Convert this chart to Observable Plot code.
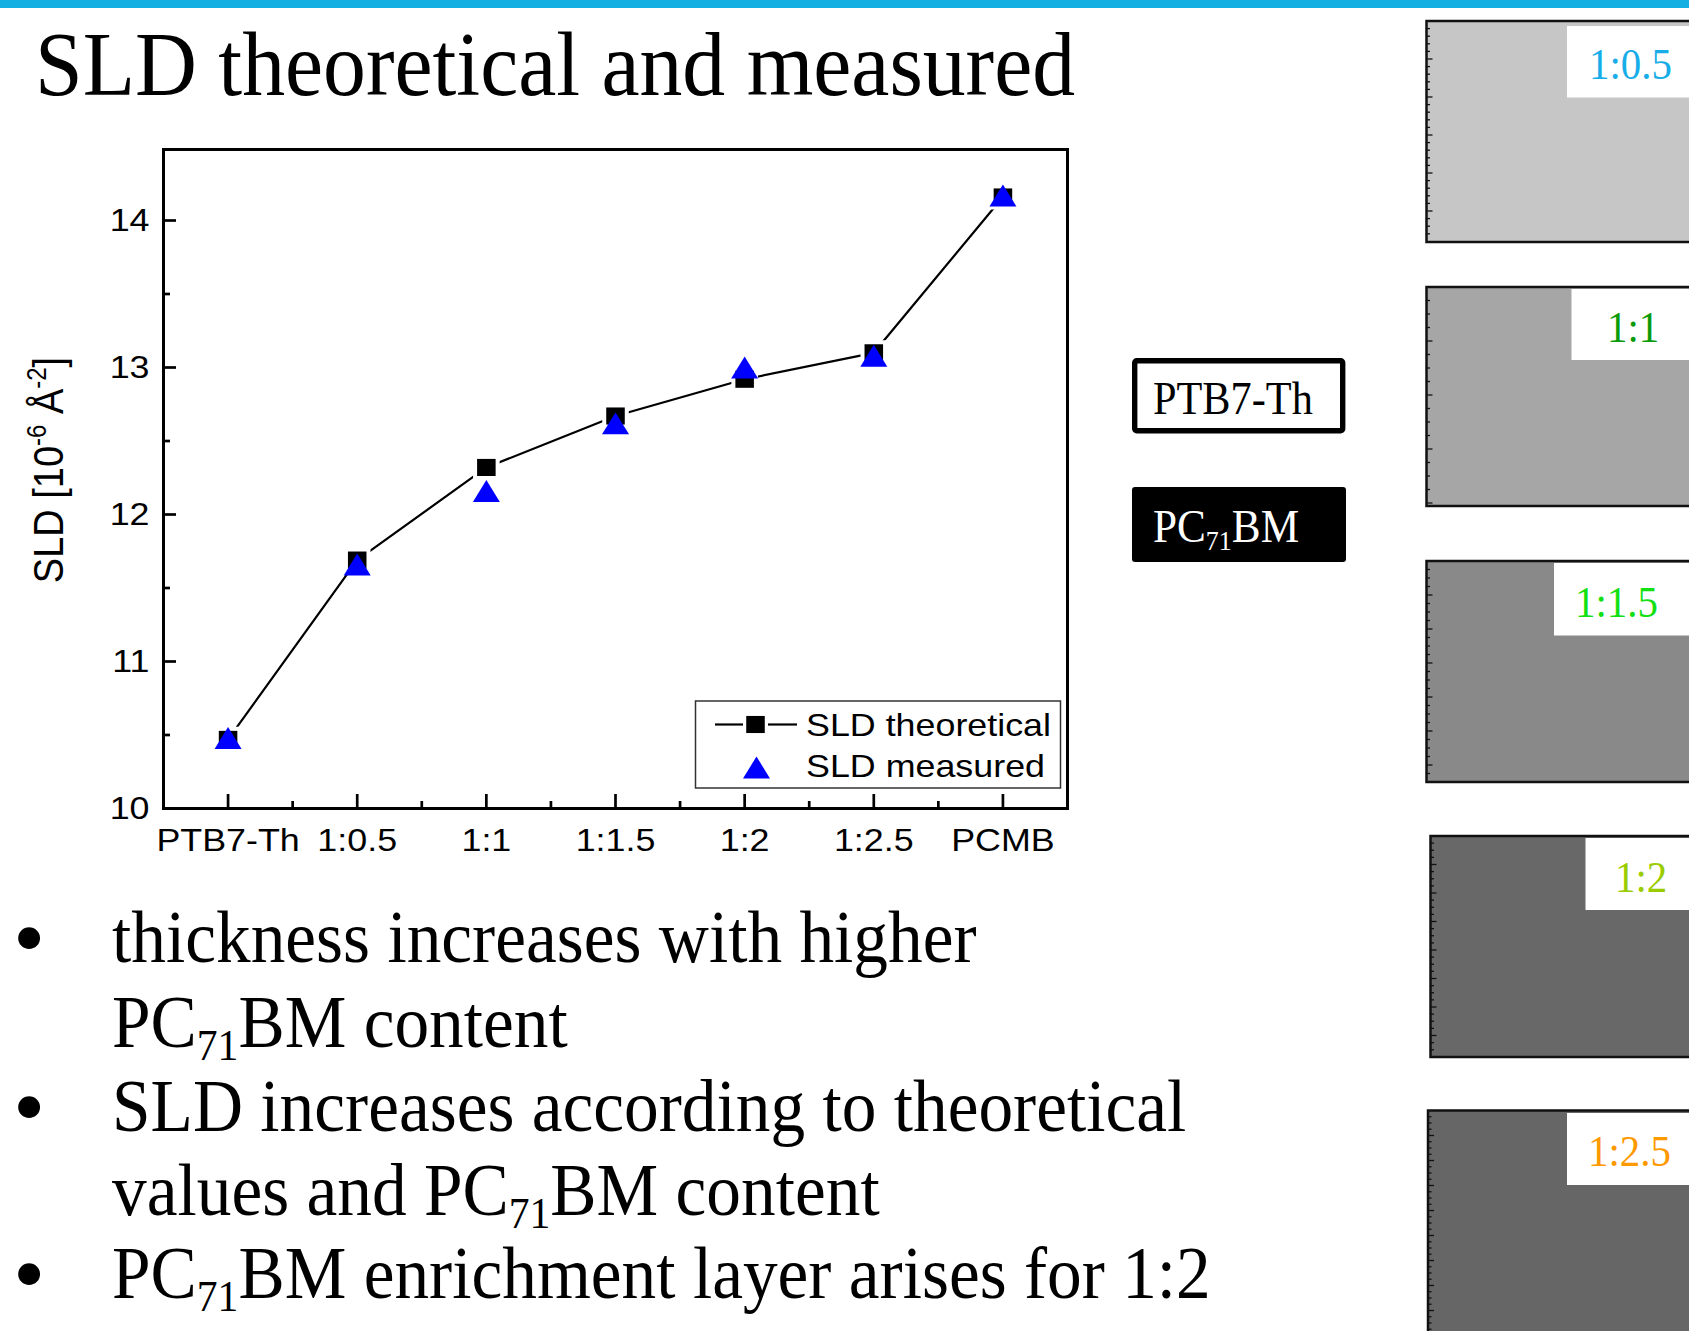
<!DOCTYPE html>
<html>
<head>
<meta charset="utf-8">
<script src="https://cdn.jsdelivr.net/npm/d3@7"></script>
<script src="https://cdn.jsdelivr.net/npm/@observablehq/plot@0.6"></script>
<style>
  html, body { margin: 0; padding: 0; background: #fff; }
  #page { position: relative; width: 1689px; height: 1331px; overflow: hidden; background: #fff; }
  #slide { position: absolute; left: 0; top: 0; }
  #chart { position: absolute; left: 0; top: 120px; }
</style>
</head>
<body>
<div id="page">
  <svg id="slide" width="1689" height="1331"></svg>
  <div id="chart"></div>
</div>
<script>
// ---------------- data ----------------
const categories = ["PTB7-Th", "1:0.5", "1:1", "1:1.5", "1:2", "1:2.5", "PCMB"];
const sldTheoretical = [10.47, 11.69, 12.32, 12.67, 12.92, 13.10, 14.16];
const sldMeasured    = [10.48, 11.66, 12.16, 12.62, 13.00, 13.08, 14.17];
const yMajorTicks = [10, 11, 12, 13, 14];
const yMinorTicks = [10.5, 11.5, 12.5, 13.5];
const xMinorTicks = [0.5, 1.5, 2.5, 3.5, 4.5, 5.5];
const seriesNames = ["SLD theoretical", "SLD measured"];
const titleText = "SLD theoretical and measured";
const panelLabels = ["1:0.5", "1:1", "1:1.5", "1:2", "1:2.5"];
const panelLabelColors = ["#17ade8", "#0a9a0a", "#12e012", "#9acc00", "#ff9900"];
const panelFills = ["#c6c6c6", "#a6a6a6", "#898989", "#686868", "#666666"];

// ---------------- chart ----------------
const rows = categories.map((c, i) => ({i, cat: c, theo: sldTheoretical[i], meas: sldMeasured[i]}));

const sqSymbol = {draw(ctx, size) {
  const r = Math.sqrt(size / Math.PI); const a = r * 1.03, b = r * 0.95;
  ctx.moveTo(-a, -b); ctx.lineTo(a, -b); ctx.lineTo(a, b); ctx.lineTo(-a, b); ctx.closePath();
}};
const triSymbol = {draw(ctx, size) {
  const r = Math.sqrt(size / Math.PI); const w = r * 1.5, h = r * 1.22;
  ctx.moveTo(0, -h); ctx.lineTo(w, h); ctx.lineTo(-w, h); ctx.closePath();
}};

const FONT_SANS = "'Liberation Sans', Arial, sans-serif";
const FONT_SERIF = "'Liberation Serif', 'Times New Roman', serif";
const TOP = 120;

const chart = Plot.plot({
  width: 1100,
  height: 770,
  marginLeft: 163,
  marginRight: 33,
  marginTop: 29,
  marginBottom: 82,
  x: {domain: [-0.5, 6.5]},
  y: {domain: [10, 14.483]},
  style: {fontFamily: FONT_SANS, fontSize: "32px", color: "#000", background: "transparent", overflow: "visible"},
  marks: [
    Plot.axisY({ticks: yMajorTicks, tickSize: -13, tickPadding: 27, strokeWidth: 2.7, label: null, fontSize: 32, tickFormat: d => String(d)}),
    Plot.axisY({ticks: yMinorTicks, tickSize: -7, tickFormat: () => "", strokeWidth: 2.7, label: null}),
    Plot.axisX({ticks: d3.range(categories.length), tickFormat: i => categories[i], tickSize: -14, tickPadding: 34, strokeWidth: 2.7, label: null, fontSize: 32}),
    Plot.axisX({ticks: xMinorTicks, tickSize: -7, tickFormat: () => "", strokeWidth: 2.7, label: null}),
    Plot.frame({stroke: "#000", strokeWidth: 3}),
    Plot.line(rows, {x: "i", y: "theo", stroke: "#000", strokeWidth: 2.2}),
    Plot.dot(rows, {x: "i", y: "theo", symbol: sqSymbol, r: 9, fill: "#000", stroke: "#fff", strokeWidth: 8, paintOrder: "stroke"}),
    Plot.dot(rows, {x: "i", y: "meas", symbol: triSymbol, r: 9, fill: "#0000ff", stroke: "none"})
  ]
});
document.getElementById("chart").appendChild(chart);

const csvg = d3.select(chart);
// widen chart tick labels (the chart image is slightly stretched horizontally)
csvg.selectAll("g[aria-label$='tick label'] text").each(function() {
  const t = this.getAttribute("transform") || "";
  this.setAttribute("transform", t + " scale(1.12,1)");
});

// y-axis label
const yl = csvg.append("text")
  .attr("transform", "translate(63," + (470 - TOP) + ") rotate(-90) scale(1,1.12)")
  .attr("text-anchor", "middle")
  .attr("font-family", FONT_SANS).attr("font-size", 38).attr("fill", "#000");
yl.append("tspan").text("SLD [10");
yl.append("tspan").attr("font-size", 24).attr("dy", -15).text("-6");
yl.append("tspan").attr("dy", 15).text(" Å");
yl.append("tspan").attr("font-size", 24).attr("dy", -15).text("-2");
yl.append("tspan").attr("dy", 15).text("]");

// legend
const lg = csvg.append("g").attr("font-family", FONT_SANS).attr("font-size", 32).attr("text-anchor", "start");
lg.append("rect").attr("x", 695.5).attr("y", 701 - TOP).attr("width", 365).attr("height", 87)
  .attr("fill", "#fff").attr("stroke", "#333").attr("stroke-width", 1.5);
lg.append("line").attr("x1", 715).attr("x2", 743).attr("y1", 724.5 - TOP).attr("y2", 724.5 - TOP)
  .attr("stroke", "#000").attr("stroke-width", 2.2);
lg.append("line").attr("x1", 768).attr("x2", 797).attr("y1", 724.5 - TOP).attr("y2", 724.5 - TOP)
  .attr("stroke", "#000").attr("stroke-width", 2.2);
lg.append("path").attr("transform", "translate(755.5," + (724.5 - TOP) + ")")
  .attr("d", d3.symbol(sqSymbol, Math.PI * 81)()).attr("fill", "#000");
lg.append("path").attr("transform", "translate(756.5," + (767.5 - TOP) + ")")
  .attr("d", d3.symbol(triSymbol, Math.PI * 81)()).attr("fill", "#0000ff");
lg.append("text").attr("text-anchor", "start").attr("transform", "translate(806," + (735.5 - TOP) + ") scale(1.12,1)").text(seriesNames[0]);
lg.append("text").attr("text-anchor", "start").attr("transform", "translate(806," + (776.5 - TOP) + ") scale(1.12,1)").text(seriesNames[1]);

// ---------------- slide decorations ----------------
const s = d3.select("#slide");
s.append("rect").attr("x", 0).attr("y", 0).attr("width", 1689).attr("height", 8).attr("fill", "#13aee2");

function serifText(x, y, size, sx, parts, fill) {
  const t = s.append("text").attr("transform", `translate(${x},${y}) scale(${sx},1)`)
    .attr("font-family", FONT_SERIF).attr("font-size", size).attr("fill", fill || "#000");
  const subShift = size * 0.18;
  let shifted = false;
  parts.forEach(p => {
    if (typeof p === "string") {
      const ts = t.append("tspan").text(p);
      if (shifted) { ts.attr("dy", -subShift); shifted = false; }
    } else {
      t.append("tspan").attr("font-size", size * 0.6).attr("dy", subShift).text(p.sub);
      shifted = true;
    }
  });
  return t;
}

// title
serifText(35, 95, 91, 0.942, [titleText]);

// bullets
const bulletBaselines = [962, 1131, 1298];
bulletBaselines.forEach(b => {
  s.append("text").attr("x", 29).attr("y", b + 6).attr("text-anchor", "middle")
    .attr("font-family", FONT_SERIF).attr("font-size", 92).text("•");
});
serifText(112, 962, 73, 0.95, ["thickness increases with higher"]);
serifText(112, 1047, 73, 0.95, ["PC", {sub: "71"}, "BM content"]);
serifText(112, 1131, 73, 0.95, ["SLD increases according to theoretical"]);
serifText(112, 1215, 73, 0.95, ["values and PC", {sub: "71"}, "BM content"]);
serifText(112, 1298, 73, 0.95, ["PC", {sub: "71"}, "BM enrichment layer arises for 1:2"]);

// material boxes
s.append("rect").attr("x", 1134.7).attr("y", 360.7).attr("width", 208).attr("height", 70)
  .attr("fill", "#fff").attr("stroke", "#000").attr("stroke-width", 5.4).attr("rx", 2);
serifText(1153, 414, 47, 0.9, ["PTB7-Th"]);
s.append("rect").attr("x", 1132).attr("y", 487).attr("width", 214).attr("height", 75)
  .attr("fill", "#000").attr("rx", 3);
serifText(1153, 542, 47, 0.92, ["PC", {sub: "71"}, "BM"], "#fff");

// right panels (reflectivity profile thumbnails)
const panelLayout = [
  {x: 1426.5, y: 21,   h: 221, bx: 1567,   by: 26,   bh: 71.5, tx: 1589, ty: 79,  major: 38, nminor: 5},
  {x: 1426.5, y: 287,  h: 219, bx: 1571.5, by: 289,  bh: 71,   tx: 1607, ty: 342, major: 54, nminor: 4},
  {x: 1426.5, y: 561,  h: 221, bx: 1554,   by: 563,  bh: 72.5, tx: 1575, ty: 617, major: 34, nminor: 4},
  {x: 1430.5, y: 836,  h: 221, bx: 1585.5, by: 838,  bh: 72,   tx: 1615, ty: 892, major: 28.5, nminor: 4},
  {x: 1428,   y: 1110.5, h: 225, bx: 1567, by: 1113, bh: 72,   tx: 1588, ty: 1166, major: 25, nminor: 4}
];
panelLayout.forEach((L, k) => {
  const g = s.append("g");
  g.append("rect").attr("x", L.x).attr("y", L.y).attr("width", 1689 - L.x + 5).attr("height", L.h)
    .attr("fill", panelFills[k]).attr("stroke", "#111").attr("stroke-width", 2.5);
  const step = L.major / L.nminor;
  for (let j = 1; L.y + j * step < L.y + L.h - 2; j++) {
    const yy = L.y + j * step;
    const len = (j % L.nminor === 0) ? 6 : 3.5;
    g.append("line").attr("x1", L.x).attr("x2", L.x + len).attr("y1", yy).attr("y2", yy)
      .attr("stroke", "#111").attr("stroke-width", 1.3);
  }
  g.append("rect").attr("x", L.bx).attr("y", L.by).attr("width", 1689 - L.bx + 5).attr("height", L.bh).attr("fill", "#fff");
  serifText(L.tx, L.ty, 44, 0.93, [panelLabels[k]], panelLabelColors[k]);
});
</script>
</body>
</html>
